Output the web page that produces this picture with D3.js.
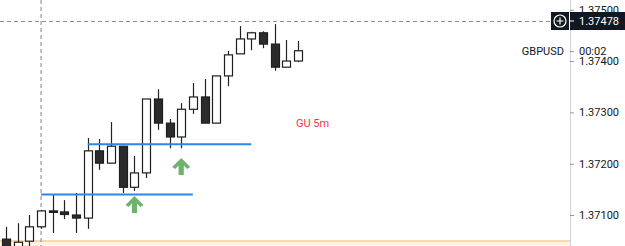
<!DOCTYPE html>
<html>
<head>
<meta charset="utf-8">
<script src="https://cdn.jsdelivr.net/npm/d3@7"></script>
<style>
  body { margin: 0; background: #fff; overflow: hidden; }
  text { font-family: Roboto, "Noto Sans", sans-serif; }
</style>
</head>
<body>
<script>
// GBPUSD 5m candles
const opens  = [1.37053, 1.37034, 1.37049, 1.37077, 1.37108, 1.37106, 1.37100, 1.37094, 1.37225, 1.37201, 1.37234, 1.37154, 1.37182,
                1.37326, 1.37279, 1.37252, 1.37306, 1.37330, 1.37279, 1.37371, 1.37414, 1.37443, 1.37455, 1.37433, 1.37388, 1.37400];
const highs  = [1.37077, 1.37084, 1.37100, 1.37110, 1.37139, 1.37129, 1.37143, 1.37250, 1.37248, 1.37281, 1.37234, 1.37215, 1.37326,
                1.37345, 1.37287, 1.37318, 1.37357, 1.37365, 1.37371, 1.37420, 1.37468, 1.37457, 1.37458, 1.37472, 1.37441, 1.37439];
const lows   = [1.37034, 1.37028, 1.37039, 1.37073, 1.37065, 1.37092, 1.37065, 1.37073, 1.37188, 1.37201, 1.37143, 1.37147, 1.37172,
                1.37266, 1.37230, 1.37230, 1.37297, 1.37279, 1.37279, 1.37351, 1.37414, 1.37421, 1.37425, 1.37381, 1.37388, 1.37398];
const closes = [1.37038, 1.37047, 1.37077, 1.37108, 1.37106, 1.37101, 1.37094, 1.37225, 1.37201, 1.37234, 1.37154, 1.37182, 1.37326,
                1.37279, 1.37252, 1.37306, 1.37330, 1.37279, 1.37371, 1.37412, 1.37443, 1.37455, 1.37433, 1.37388, 1.37400, 1.37420];

const priceTicks = [1.371, 1.372, 1.373, 1.374, 1.375];

// drawings on the chart: [startBar, endBar, price]
const levels = [[3, 16, 1.37140], [7, 21, 1.37238]];
// arrows: [bar, tip price]
const arrows = [[11, 1.37137], [15, 1.37211]];
const crossBar = 3, crossPrice = 1.37478;

const W = 625, H = 246, axisX = 570;

const svg = d3.select("body").append("svg")
    .attr("width", W)
    .attr("height", H);

const x = d3.scaleLinear().domain([0, 25]).range([6, 298]);
const y = d3.scaleLinear().domain([1.371, 1.375]).range([215, 9.7]);

// bottom highlighted box
svg.append("rect")
    .attr("x", 0).attr("y", 241).attr("width", axisX).attr("height", 5)
    .style("fill", "#fdf3e7");
svg.append("line")
    .attr("x1", 0).attr("x2", axisX).attr("y1", 241).attr("y2", 241)
    .style("stroke", "#f6cf98").style("stroke-width", 1.5);

// crosshair
svg.append("line")
    .attr("x1", x(crossBar)).attr("x2", x(crossBar)).attr("y1", 0).attr("y2", H)
    .style("stroke", "#758696").style("stroke-dasharray", "4,3");
svg.append("line")
    .attr("x1", 0).attr("x2", 551).attr("y1", Math.round(y(crossPrice)) + 0.5).attr("y2", Math.round(y(crossPrice)) + 0.5)
    .style("stroke", "#8a93a0").style("stroke-dasharray", "4,3");

// candles
const bars = d3.range(opens.length).map(i => ({
    i, o: opens[i], h: highs[i], l: lows[i], c: closes[i]
}));

const g = svg.append("g");
g.selectAll("line.wick").data(bars).join("line")
    .attr("class", "wick")
    .attr("x1", d => Math.round(x(d.i)) + 0.5)
    .attr("x2", d => Math.round(x(d.i)) + 0.5)
    .attr("y1", d => y(d.h))
    .attr("y2", d => y(d.l))
    .style("stroke", "#222")
    .style("stroke-width", 1.2);

g.selectAll("rect.body").data(bars).join("rect")
    .attr("class", "body")
    .attr("x", d => Math.round(x(d.i)) - 3.5)
    .attr("width", 8)
    .attr("y", d => y(Math.max(d.o, d.c)))
    .attr("height", d => Math.max(1.5, Math.abs(y(d.o) - y(d.c))))
    .style("fill", d => d.c >= d.o ? "#fff" : "#2b2b2b")
    .style("stroke", "#1e1e1e")
    .style("stroke-width", 1.2);

// blue levels
svg.selectAll("line.level").data(levels).join("line")
    .attr("class", "level")
    .attr("x1", d => x(d[0]))
    .attr("x2", d => x(d[1]))
    .attr("y1", d => y(d[2]))
    .attr("y2", d => y(d[2]))
    .style("stroke", "#2a86e8")
    .style("stroke-width", 2);

// green arrows
const arrowPath = "M0,0 L9,9 L6,11 L2.6,7.5 L2.6,17 L-2.6,17 L-2.6,7.5 L-6,11 L-9,9 Z";
svg.selectAll("path.arrow").data(arrows).join("path")
    .attr("class", "arrow")
    .attr("d", arrowPath)
    .attr("transform", d => `translate(${x(d[0])},${y(d[1])})`)
    .style("fill", "#6cb36c");

svg.append("text")
    .attr("x", 296).attr("y", 127)
    .style("font-size", "11px")
    .style("fill", "#f23645")
    .text("GU 5m");

// price axis
const axis = svg.append("g")
    .attr("transform", `translate(${axisX},0)`)
    .call(d3.axisRight(y).tickValues(priceTicks).tickFormat(d3.format(".5f")).tickSize(4).tickPadding(5));
axis.select(".domain").attr("d", `M0.5,0V${H}`).style("stroke", "#d1d4dc");
axis.selectAll(".tick line").style("stroke", "#9598a1");
axis.selectAll(".tick text")
    .style("font-size", "11px")
    .style("fill", "#131722")
    .style("font-family", "Roboto, sans-serif");

// symbol label with countdown
svg.append("text")
    .attr("x", 564).attr("y", 55)
    .attr("text-anchor", "end")
    .style("font-size", "11px").style("fill", "#131722")
    .text("GBPUSD");
svg.append("line")
    .attr("x1", axisX).attr("x2", axisX + 4).attr("y1", 51.5).attr("y2", 51.5)
    .style("stroke", "#9598a1");
svg.append("text")
    .attr("x", 579).attr("y", 55)
    .style("font-size", "11px").style("fill", "#131722")
    .text("00:02");

// crosshair price label
const py = y(crossPrice);
svg.append("rect")
    .attr("x", 551).attr("y", py - 9).attr("width", 18).attr("height", 18)
    .style("fill", "#131722");
svg.append("rect")
    .attr("x", 570).attr("y", py - 9).attr("width", 55).attr("height", 18)
    .style("fill", "#131722");
svg.append("circle")
    .attr("cx", 560).attr("cy", py).attr("r", 6)
    .style("fill", "none").style("stroke", "#fff").style("stroke-width", 1.2);
svg.append("path")
    .attr("d", `M556.5,${py}H563.5M560,${py - 3.5}V${py + 3.5}`)
    .style("stroke", "#fff").style("stroke-width", 1.2);
svg.append("line")
    .attr("x1", axisX).attr("x2", axisX + 4).attr("y1", py).attr("y2", py)
    .style("stroke", "#fff");
svg.append("text")
    .attr("x", 579).attr("y", py + 4)
    .style("font-size", "11px").style("fill", "#fff")
    .text(d3.format(".5f")(crossPrice));
</script>
</body>
</html>
